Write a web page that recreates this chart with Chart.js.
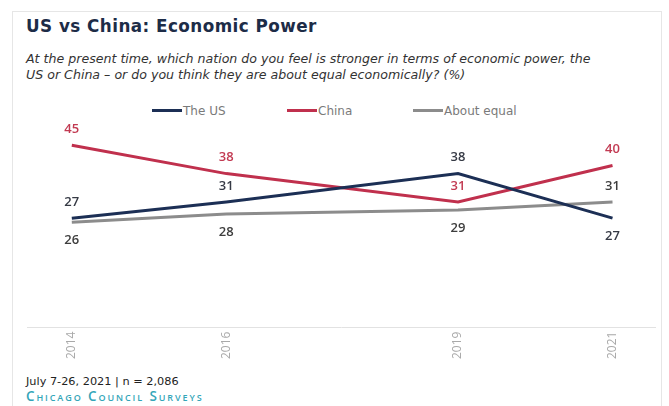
<!DOCTYPE html>
<html>
<head>
<meta charset="utf-8">
<script src="https://cdn.jsdelivr.net/npm/chart.js@4/dist/chart.umd.min.js"></script>
<style>
  html, body { margin: 0; padding: 0; background: #fff; width: 669px; height: 406px; overflow: hidden; }
  #card { position: absolute; left: 12px; top: 11px; width: 650px; height: 420px; border: 1px solid #e6e6e6; box-sizing: border-box; }
  #title { position: absolute; left: 26px; top: 16px; font-family: "DejaVu Sans", sans-serif; font-weight: 700; font-size: 16.8px; letter-spacing: 0.45px; color: #1d2c47; white-space: nowrap; }
  #sub { position: absolute; left: 26px; top: 51px; font-family: "DejaVu Sans", sans-serif; font-style: italic; font-size: 12.6px; line-height: 16px; color: #333; white-space: nowrap; }
  #legend { position: absolute; left: 0; top: 103px; width: 669px; height: 16px; font-family: "DejaVu Sans", sans-serif; font-size: 12px; color: #7a7a7a; }
  .li { position: absolute; top: 0; height: 16px; line-height: 16px; white-space: nowrap; }
  .sw { display: inline-block; width: 30px; height: 3px; vertical-align: middle; margin-right: 1px; position: relative; top: -1px; }
  #wrap { position: absolute; left: 0; top: 120px; width: 669px; height: 255px; }
  #foot1 { position: absolute; left: 26px; top: 375px; font-family: "DejaVu Sans", sans-serif; font-size: 11.3px; color: #222; white-space: nowrap; }
  #foot2 { position: absolute; left: 26px; top: 387px; font-family: "Open Sans", sans-serif; font-weight: 600; font-size: 13.5px; font-variant: small-caps; color: #33a5b8; letter-spacing: 1.9px; white-space: nowrap; }
</style>
</head>
<body>
<div id="card"></div>
<div id="title">US vs China: Economic Power</div>
<div id="sub">At the present time, which nation do you feel is stronger in terms of economic power, the<br>US or China – or do you think they are about equal economically? (%)</div>
<div id="legend"></div>
<div id="wrap"><canvas id="c" width="669" height="255"></canvas></div>
<div id="foot1">July 7-26, 2021 | n = 2,086</div>
<div id="foot2">Chicago Council Surveys</div>
<script>
const years = [2014, 2016, 2019, 2021];
const theUS = [27, 31, 38, 27];
const china = [45, 38, 31, 40];
const aboutEqual = [26, 28, 29, 31];
const seriesNames = ["The US", "China", "About equal"];

// styling (not data)
const lineColors = ["#1c2f55", "#c0304d", "#8c8c8c"];
const labelColors = ["#363a45", "#c23a52", "#3d3d3d"];
const labelPlace = [
  ["above", "above", "above", "below"],
  ["above", "above", "above", "above"],
  ["below", "below", "below", "above"]
];
const legendLeft = [152, 287, 413];

const leg = document.getElementById("legend");
seriesNames.forEach((n, i) => {
  const d = document.createElement("div");
  d.className = "li";
  d.style.left = legendLeft[i] + "px";
  const s = document.createElement("span");
  s.className = "sw";
  s.style.background = lineColors[i];
  d.appendChild(s);
  d.appendChild(document.createTextNode(n));
  leg.appendChild(d);
});

const pts = arr => arr.map((v, i) => ({ x: years[i], y: v }));

const labelPlugin = {
  id: "pointLabels",
  afterDatasetsDraw(chart) {
    const ctx = chart.ctx;
    ctx.save();
    ctx.font = "600 13px 'Open Sans', sans-serif";
    ctx.textAlign = "center";
    ctx.textBaseline = "middle";
    chart.data.datasets.forEach((ds, di) => {
      const meta = chart.getDatasetMeta(di);
      meta.data.forEach((el, i) => {
        const place = labelPlace[di][i];
        const y = place === "above" ? el.y - 16 : el.y + 18;
        ctx.fillStyle = labelColors[di];
        ctx.fillText(String(ds.data[i].y), el.x, y);
      });
    });
    ctx.restore();
  }
};

new Chart(document.getElementById("c"), {
  type: "line",
  data: {
    datasets: [
      { label: seriesNames[0], data: pts(theUS), borderColor: lineColors[0], backgroundColor: lineColors[0], borderWidth: 3, pointRadius: 0, tension: 0 },
      { label: seriesNames[1], data: pts(china), borderColor: lineColors[1], backgroundColor: lineColors[1], borderWidth: 3, pointRadius: 0, tension: 0 },
      { label: seriesNames[2], data: pts(aboutEqual), borderColor: lineColors[2], backgroundColor: lineColors[2], borderWidth: 3, pointRadius: 0, tension: 0 }
    ]
  },
  options: {
    responsive: false,
    animation: false,
    layout: { padding: { left: 27, right: 14, top: 5, bottom: 12 } },
    plugins: {
      legend: { display: false },
      tooltip: { enabled: false }
    },
    scales: {
      x: {
        type: "linear",
        min: 2013.42,
        max: 2021.55,
        afterBuildTicks: axis => { axis.ticks = years.map(v => ({ value: v })); },
        ticks: {
          maxRotation: 90,
          minRotation: 90,
          color: "#a9a9a9",
          padding: 4,
          font: { family: "'Open Sans', sans-serif", size: 12 },
          callback: v => String(v)
        },
        grid: { display: false, drawTicks: false },
        border: { display: true, color: "#e2e2e2", width: 1 }
      },
      y: {
        display: false,
        min: 0,
        max: 50
      }
    }
  },
  plugins: [labelPlugin]
});
</script>
</body>
</html>
